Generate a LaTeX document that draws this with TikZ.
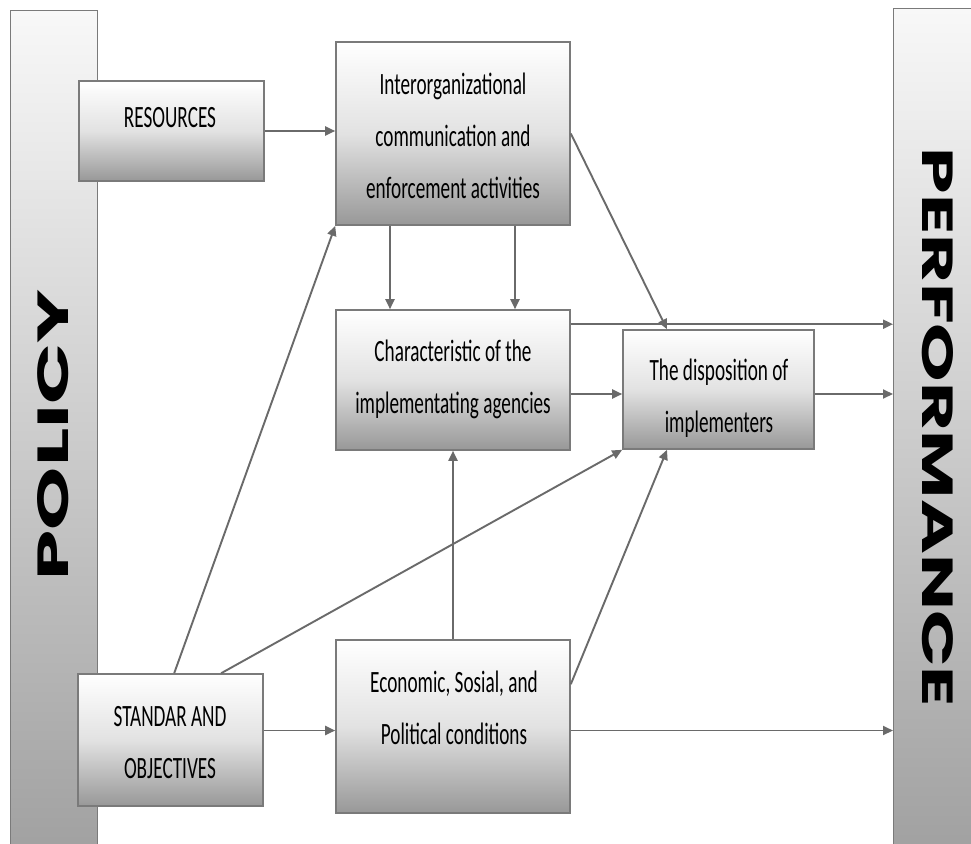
\documentclass[tikz,border=0pt]{standalone}
\usepackage{fontspec}
\setmainfont{Carlito}
\newfontfamily\boxfont[FakeStretch=0.62]{Carlito}
\newfontfamily\titlefont{Poppins}
\usetikzlibrary{arrows.meta,calc}

\definecolor{boxline}{HTML}{7A7A7A}
\definecolor{arrgray}{HTML}{6A6A6A}
\definecolor{boxmid}{HTML}{E2E2E2}
\definecolor{boxbot}{HTML}{989898}
\definecolor{bartop}{HTML}{F8F8F8}
\definecolor{barbot}{HTML}{A0A0A0}

\begin{document}
\begin{tikzpicture}[x=1pt,y=-1pt,
  box/.style={draw=boxline, line width=1.6pt, top color=white, bottom color=boxbot,
              middle color=boxmid, inner sep=0pt},
  bar/.style={draw=boxline, line width=1.4pt, top color=bartop, bottom color=barbot,
              inner sep=0pt, anchor=north west},
  txt/.style={font={\boxfont\fontsize{31}{52}\selectfont}, align=center, inner sep=0pt},
  arr/.style={draw=arrgray, line width=1.9pt, -{Triangle[length=10pt,width=9pt]}}]

\useasboundingbox[fill=white] (0,0) rectangle (971,843);

% side bars
\node[bar, minimum width=87pt, minimum height=850pt] (policy) at (10,10) {};
\node[bar, minimum width=90pt, minimum height=850pt] (perf) at (893,8) {};
\node[inner sep=0pt] (policy-t) at (53,435)
  {\rotatebox{90}{\resizebox{290pt}{31pt}{\titlefont\bfseries POLICY}}};
\node[inner sep=0pt] (perf-t) at (937.5,427.5)
  {\rotatebox{-90}{\resizebox{559pt}{31pt}{\titlefont\bfseries PERFORMANCE}}};

% boxes
\node[box, minimum width=185pt, minimum height=100pt] (res)   at (171.5,131)   {};
\node[box, minimum width=234pt, minimum height=183pt] (inter) at (453,133.5)   {};
\node[box, minimum width=234pt, minimum height=140pt] (char)  at (453,380)     {};
\node[box, minimum width=191pt, minimum height=119pt] (disp)  at (718.5,389.5) {};
\node[box, minimum width=234pt, minimum height=173pt] (econ)  at (453,726.5)   {};
\node[box, minimum width=185pt, minimum height=132pt] (std)   at (170.5,740)   {};

% box texts
\node[txt] (res-t)   at (170,118)   {RESOURCES};
\node[txt] (inter-t) at (453,136)   {Interorganizational\\communication and\\enforcement activities};
\node[txt] (char-t)  at (453,379.5) {Characteristic of the\\implementating agencies};
\node[txt] (disp-t)  at (719,398)   {The disposition of\\implementers};
\node[txt] (econ-t)  at (454,708)   {Economic, Sosial, and\\Political conditions};
\node[txt] (std-t)   at (170,742.5) {STANDAR AND\\OBJECTIVES};

% helper points on box edges
\coordinate (c1) at ($(char.north east)+(0,15)$);
\coordinate (c2) at ($(char.east)+(0,14)$);
\coordinate (c3) at (c2 -| disp.east);
\coordinate (c4) at ($(econ.east)+(0,4)$);
\coordinate (c5) at (std.east |- c4);
\coordinate (s1) at ($(std.north west)+(97,0)$);
\coordinate (s2) at ($(std.north west)+(144,0)$);
\coordinate (e1) at ($(econ.north east)+(0,45)$);

% connectors
\draw[arr] (res.east) -- (res.east -| inter.west);
\draw[arr] ([xshift=-63pt]inter.south) -- ([xshift=-63pt]char.north);
\draw[arr] ([xshift=62pt]inter.south) -- ([xshift=62pt]char.north);
\draw[arr] (inter.east) -- ([xshift=-51.5pt]disp.north);
\draw[arr] (c1) -- (c1 -| perf.west);
\draw[arr] (c2) -- (c2 -| disp.west);
\draw[arr] (c3) -- (c3 -| perf.west);
\draw[arr] (c5) -- (c4 -| econ.west);
\draw[arr] (c4) -- (c4 -| perf.west);
\draw[arr] (econ.north) -- (econ.north |- char.south);
\draw[arr] (s1) -- (inter.south west);
\draw[arr] (s2) -- (disp.south west);
\draw[arr] (e1) -- ([xshift=-51.5pt]disp.south);
\end{tikzpicture}
\end{document}
